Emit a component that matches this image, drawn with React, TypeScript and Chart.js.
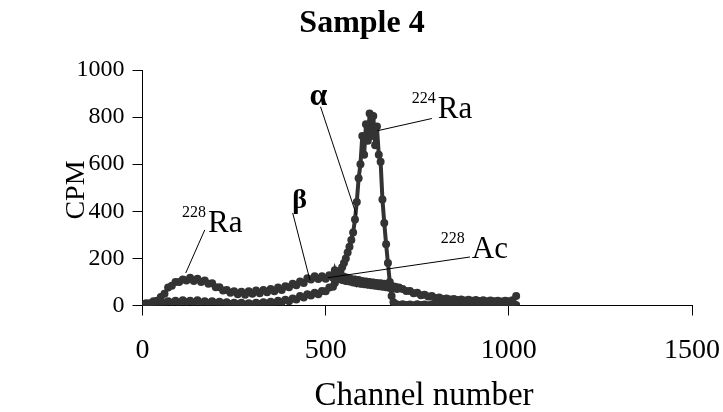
import React, { useEffect, useRef } from "react";
import { Chart, registerables } from "chart.js";

Chart.register(...registerables);

// ---------------- data ----------------
const channels = [
  0, 10, 20, 30, 40, 50, 60, 70, 80, 90,
  100, 110, 120, 130, 140, 150, 160, 170, 180, 190,
  200, 210, 220, 230, 240, 250, 260, 270, 280, 290,
  300, 310, 320, 330, 340, 350, 360, 370, 380, 390,
  400, 410, 420, 430, 440, 450, 460, 470, 480, 490,
  500, 510, 520,
  525, 530, 535, 540, 545, 550, 555, 560, 565, 570,
  575, 580, 585, 590, 595, 600, 605, 610, 615, 620,
  625, 630, 635, 640, 645, 650, 655, 660, 665, 670,
  675, 680, 685, 690, 695, 700,
  710, 720, 730, 740, 750, 760, 770, 780, 790, 800,
  810, 820, 830, 840, 850, 860, 870, 880, 890, 900,
  910, 920, 930, 940, 950, 960, 970, 980, 990, 1000,
  1010, 1020,
];

const alphaCpm = [
  0, 6, 4, 12, 8, 16, 10, 18, 12, 20,
  12, 22, 14, 20, 12, 22, 12, 18, 10, 18,
  10, 16, 8, 14, 6, 12, 6, 12, 4, 10,
  4, 12, 6, 14, 8, 16, 10, 20, 14, 24,
  18, 30, 26, 40, 34, 48, 42, 54, 48, 62,
  60, 76, 80,
  96, 110, 128, 145, 162, 180, 200, 225, 250, 278,
  310, 365, 440, 540, 600, 720, 640, 770, 700, 815,
  720, 805, 680, 760, 640, 610, 450, 350, 260, 180,
  100, 40, 14, 6, 4, 2,
  5, 2, 4, 1, 5, 2, 4, 1, 5, 2,
  4, 1, 5, 2, 4, 1, 5, 2, 4, 1,
  5, 2, 4, 1, 5, 2, 4, 1, 5, 2,
  4, 2,
];

const betaCpm = [
  4, 10, 10, 18, 20, 36, 50, 76, 84, 100,
  100, 110, 106, 118, 104, 114, 100, 106, 92, 94,
  78, 78, 64, 66, 54, 60, 48, 58, 46, 60,
  50, 64, 52, 66, 56, 70, 60, 76, 66, 82,
  78, 92, 86, 102, 96, 116, 110, 124, 112, 124,
  114, 128, 118,
  150, 126, 112, 124, 108, 122, 104, 118, 102, 112,
  98, 110, 94, 108, 92, 104, 90, 102, 88, 100,
  86, 98, 84, 96, 82, 94, 80, 92, 78, 86,
  74, 84, 72, 80, 70, 76,
  70, 62, 62, 52, 54, 44, 46, 38, 40, 32,
  34, 28, 30, 25, 28, 23, 26, 21, 24, 20,
  23, 19, 22, 18, 21, 18, 20, 17, 20, 18,
  22, 40,
];

const xTicks = [0, 500, 1000, 1500];
const yTicks = [0, 200, 400, 600, 800, 1000];

const chartTitle = "Sample 4";
const xTitle = "Channel number";
const yTitle = "CPM";

// annotations (anchors in data units: channel, CPM)
const annoText = ["α", "Ra", "β", "Ra", "Ac"];
const annoSup = ["", "224", "", "228", "228"];
const annoBold = [true, false, true, false, false];
const annoLabelAt = [
  [480, 851],
  [806, 796],
  [429, 414],
  [179, 312],
  [899, 202],
];
const annoLineFrom = [
  [486, 844],
  [790, 794],
  [410, 393],
  [170, 321],
  [894, 206],
];
const annoLineTo = [
  [584, 384],
  [641, 742],
  [457, 108],
  [118, 138],
  [506, 118],
];

const SERIF = '"Liberation Serif", "Times New Roman", serif';
const INK = "#333333";

const textPlugin = {
  id: "textPlugin",
  afterDraw(chart: any) {
    const { ctx, scales } = chart;
    const xs = scales.x;
    const ys = scales.y;
    const px = (v: number) => xs.getPixelForValue(v);
    const py = (v: number) => ys.getPixelForValue(v);
    ctx.save();
    ctx.fillStyle = "#000";
    ctx.strokeStyle = "#000";

    // title
    ctx.font = `bold 32px ${SERIF}`;
    ctx.textAlign = "center";
    ctx.textBaseline = "alphabetic";
    ctx.fillText(chartTitle, 362, 32);

    // x title
    ctx.font = `33px ${SERIF}`;
    ctx.fillText(xTitle, 424, 405);

    // y title
    ctx.save();
    ctx.translate(84, 190);
    ctx.rotate(-Math.PI / 2);
    ctx.font = `28px ${SERIF}`;
    ctx.fillText(yTitle, 0, 0);
    ctx.restore();

    // annotation lines
    ctx.lineWidth = 1;
    for (let i = 0; i < annoText.length; i++) {
      ctx.beginPath();
      ctx.moveTo(px(annoLineFrom[i][0]), py(annoLineFrom[i][1]));
      ctx.lineTo(px(annoLineTo[i][0]), py(annoLineTo[i][1]));
      ctx.stroke();
    }
    // annotation labels
    for (let i = 0; i < annoText.length; i++) {
      const lx = px(annoLabelAt[i][0]);
      const ly = py(annoLabelAt[i][1]);
      ctx.textBaseline = "alphabetic";
      if (annoBold[i]) {
        ctx.font = `bold ${i === 0 ? 32 : 28}px ${SERIF}`;
        ctx.textAlign = "center";
        ctx.fillText(annoText[i], lx, ly);
      } else {
        ctx.font = `31px ${SERIF}`;
        ctx.textAlign = "left";
        ctx.fillText(annoText[i], lx, ly);
        ctx.font = `16px ${SERIF}`;
        ctx.textAlign = "right";
        ctx.fillText(annoSup[i], lx - (i === 4 ? 7 : 2), ly - 15);
      }
    }
    ctx.restore();
  },
};

export default function App() {
  const ref = useRef<HTMLCanvasElement | null>(null);
  useEffect(() => {
    document.body.style.margin = "0";
    const canvas = ref.current;
    if (!canvas) return;
    const pts = (vals: number[]) => channels.map((c, i) => ({ x: c, y: vals[i] }));
    const ds = (label: string, vals: number[]) => ({
      label,
      data: pts(vals),
      showLine: true,
      borderColor: INK,
      borderWidth: 4,
      backgroundColor: INK,
      pointRadius: 4,
      pointBorderWidth: 0,
      pointHoverRadius: 4,
    });
    const chart = new Chart(canvas, {
      type: "scatter",
      data: {
        datasets: [ds("beta", betaCpm), ds("alpha", alphaCpm)],
      },
      options: {
        animation: false,
        responsive: false,
        devicePixelRatio: 1,
        layout: { padding: { top: 70, right: 31, left: 0, bottom: 0 } },
        plugins: {
          legend: { display: false },
          title: { display: false },
          tooltip: { enabled: false },
        },
        scales: {
          x: {
            type: "linear",
            min: 0,
            max: 1500,
            afterFit: (s: any) => {
              s.height = 106.5;
              s.paddingLeft = 0;
              s.paddingRight = 0;
            },
            afterBuildTicks: (s: any) => {
              s.ticks = xTicks.map((v) => ({ value: v }));
            },
            ticks: {
              color: "#000",
              font: { family: SERIF, size: 28 },
              padding: 18,
              maxRotation: 0,
              callback: (v: any) => String(v),
            },
            grid: {
              drawOnChartArea: false,
              drawTicks: true,
              tickLength: 10,
              color: "#000",
              lineWidth: 1,
            },
            border: { display: true, color: "#000", width: 1 },
          },
          y: {
            type: "linear",
            min: 0,
            max: 1000,
            afterFit: (s: any) => {
              s.width = 142.5;
              s.paddingTop = 0;
              s.paddingBottom = 0;
            },
            afterBuildTicks: (s: any) => {
              s.ticks = yTicks.map((v) => ({ value: v }));
            },
            ticks: {
              color: "#000",
              font: { family: SERIF, size: 24 },
              padding: 8,
              callback: (v: any) => String(v),
            },
            grid: {
              drawOnChartArea: false,
              drawTicks: true,
              tickLength: 10,
              color: "#000",
              lineWidth: 1,
            },
            border: { display: true, color: "#000", width: 1 },
          },
        },
      },
      plugins: [textPlugin],
    });
    return () => chart.destroy();
  }, []);
  return (
    <div style={{ width: 723, height: 412, background: "#fff" }}>
      <canvas ref={ref} width={723} height={412} style={{ display: "block" }} />
    </div>
  );
}
